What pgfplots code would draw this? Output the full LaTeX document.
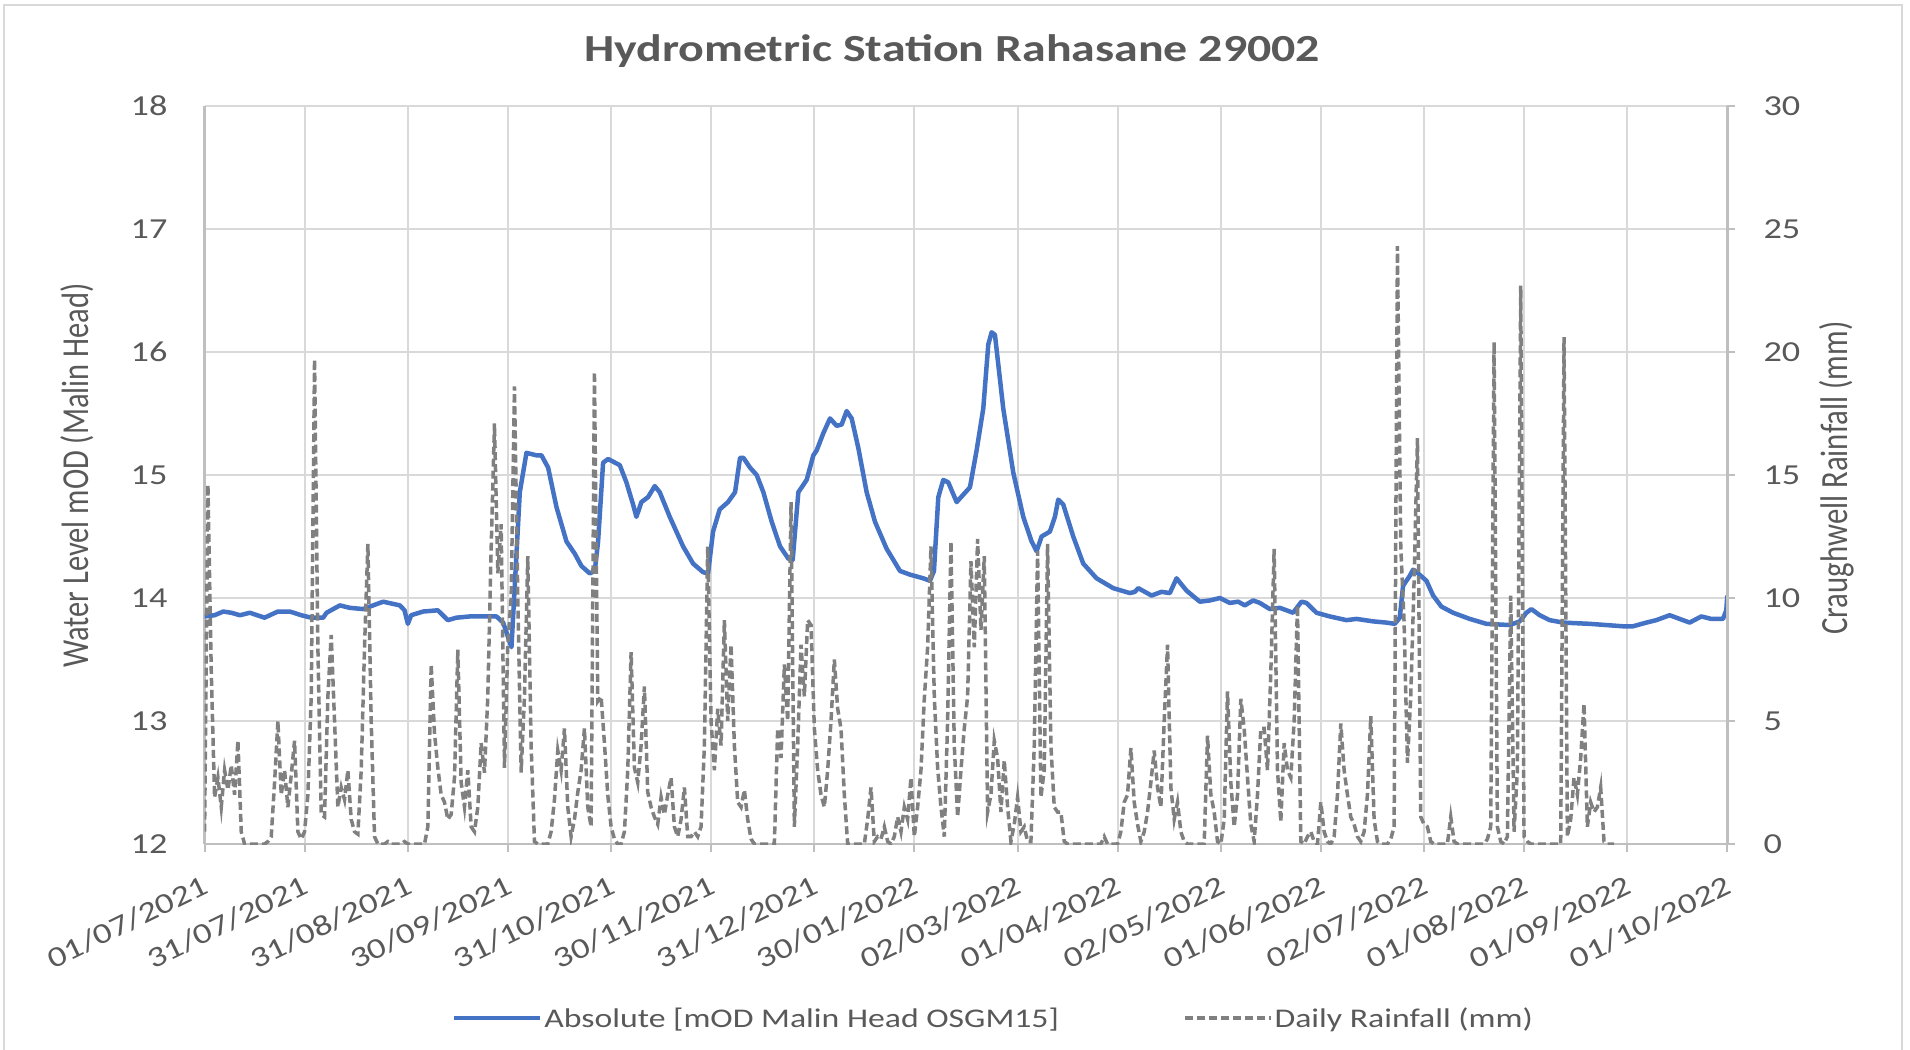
\documentclass[border=0pt]{standalone}
\usepackage{pgfplots}
\usepackage{pgfplotstable}
\pgfplotsset{compat=1.18}
\usepackage{fontspec}
\setmainfont{Carlito}[FakeStretch=1.25]
\newfontfamily\vfont{Carlito}
\definecolor{txt}{HTML}{595959}
\definecolor{grd}{HTML}{D9D9D9}
\definecolor{axl}{HTML}{BFBFBF}
\definecolor{lvl}{HTML}{4472C4}
\definecolor{rain}{HTML}{808080}

\pgfplotstableread{
d lev
0 13.85
3 13.86
5.6 13.89
8 13.88
10.6 13.86
13.6 13.88
18 13.84
22 13.89
25.6 13.89
29 13.86
32 13.84
35.6 13.84
36.6 13.88
40.6 13.94
43.6 13.92
47.6 13.91
51.6 13.95
53.6 13.97
58.6 13.94
60 13.9
61 13.79
62 13.86
65.6 13.89
70 13.9
73 13.82
75.6 13.84
79.6 13.85
83.6 13.85
87.6 13.85
89.6 13.8
92.1 13.6
94.6 14.86
96.6 15.18
99.6 15.16
101.1 15.16
103.1 15.06
105.6 14.74
108.6 14.46
111.1 14.36
113.1 14.26
115.6 14.2
117.1 14.22
118.1 14.46
119.6 15.1
121.1 15.13
124.6 15.08
126.6 14.94
128.6 14.76
129.6 14.66
131.1 14.78
133.1 14.82
135.1 14.91
136.6 14.86
139.6 14.66
143.6 14.42
146.6 14.28
149.6 14.21
151.1 14.2
152.6 14.54
154.6 14.72
157.1 14.78
159.2 14.86
160.7 15.14
161.7 15.14
163.7 15.06
165.7 15.0
167.7 14.86
170.2 14.62
172.7 14.42
175.2 14.32
176.5 14.31
178.2 14.86
180.7 14.96
182.7 15.16
183.7 15.2
185.7 15.34
187.7 15.46
189.7 15.4
191.2 15.41
192.7 15.52
194.2 15.46
196.2 15.22
198.7 14.86
201.2 14.62
204.7 14.4
208.7 14.22
211.7 14.19
215.7 14.16
217.7 14.14
218.9 14.22
220.2 14.82
221.7 14.96
223.2 14.94
225.7 14.78
227.7 14.84
229.7 14.9
231.7 15.2
233.7 15.54
235.2 16.06
236.2 16.16
237.2 16.14
239.7 15.54
242.7 15.02
245.7 14.66
248.2 14.46
249.7 14.38
251.2 14.5
253.7 14.54
255.2 14.66
256.2 14.8
257.7 14.76
260.7 14.5
263.7 14.28
267.7 14.16
272.7 14.08
277.7 14.04
279.2 14.05
280.2 14.08
284.2 14.02
287.2 14.05
289.7 14.04
291.7 14.16
294.7 14.06
298.7 13.97
301.7 13.98
304.7 14.0
307.7 13.96
310.2 13.97
312.2 13.94
314.7 13.98
316.7 13.96
319.7 13.91
322.7 13.92
326.7 13.88
329.2 13.97
330.7 13.96
333.7 13.88
337.7 13.85
342.7 13.82
345.7 13.83
350.7 13.81
354.7 13.8
357.2 13.79
358.7 13.84
359.7 14.1
361.7 14.18
362.7 14.23
364.2 14.2
366.7 14.14
368.7 14.02
371.2 13.93
374.7 13.88
379.7 13.83
384.7 13.79
391.7 13.78
394.7 13.81
396.7 13.88
398.2 13.91
400.7 13.86
403.7 13.82
407.7 13.8
415.7 13.79
425.7 13.77
428.7 13.77
432.7 13.8
435.7 13.82
439.7 13.86
442.7 13.83
445.7 13.8
449.2 13.85
452.2 13.83
455.7 13.83
456.7 13.9
457 14.02
}\levtab

\pgfplotstableread{
d r
0 0.5
1 14.6
2 7.0
3 1.9
4 2.7
5 1.5
6 3.0
7 2.2
8 3.2
9 2.0
10 4.2
11 0.5
12 0
13 0
14 0
15 0
16 0
17 0
18 0
19 0.1
20 0.3
21 2.5
22 5.0
23 2.0
24 3.0
25 1.5
26 2.8
27 4.2
28 0.5
29 0.2
30 0.5
31 2.0
32 6.0
33 19.7
34 8.0
35 1.2
36 1.1
37 6.0
38 8.5
39 5.0
40 1.5
41 2.3
42 1.8
43 3.0
44 1.0
45 0.5
46 0.4
47 3.0
48 8.0
49 12.2
50 5.0
51 0.3
52 0
53 0
54 0
55 0.1
56 0
57 0
58 0
59 0
60 0.1
61 0
62 0
63 0
64 0
65 0
66 0
67 0.7
68 7.3
69 4.5
70 3.1
71 2.0
72 1.7
73 1.0
74 1.2
75 2.7
76 7.9
77 2.5
78 1.5
79 3.0
80 0.7
81 0.5
82 1.5
83 4.1
84 2.9
85 6.0
86 12.0
87 17.1
88 11.0
89 13.0
90 3.1
91 8.1
92 10.0
93 18.6
94 10.0
95 2.9
96 6.0
97 11.7
98 4.0
99 0.1
100 0
101 0
102 0
103 0
104 0.5
105 1.8
106 3.8
107 3.0
108 4.7
109 1.5
110 0.3
111 1.0
112 2.1
113 3.0
114 4.7
115 1.5
116 0.7
117 19.2
118 5.8
119 6.0
120 4.1
121 2.0
122 0.7
123 0.2
124 0
125 0
126 0.5
127 3.0
128 7.8
129 3.1
130 2.5
131 4.0
132 6.4
133 2.1
134 1.5
135 1.1
136 0.8
137 1.9
138 1.2
139 2.0
140 2.7
141 0.7
142 0.3
143 1.0
144 2.3
145 0.3
146 0.3
147 0.5
148 0.3
149 0.7
150 4.0
151 12.1
152 5.0
153 3.0
154 5.5
155 4.0
156 9.1
157 5.0
158 8.1
159 4.0
160 1.7
161 1.5
162 2.2
163 1.0
164 0.2
165 0
166 0
167 0
168 0
169 0
170 0
171 0
172 4.7
173 3.5
174 7.3
175 5.0
176 13.9
177 0.7
178 4.0
179 8.1
180 6.0
181 9.1
182 8.9
183 4.7
184 3.0
185 2.0
186 1.5
187 3.0
188 5.0
189 7.5
190 5.5
191 4.7
192 2.0
193 0
194 0
195 0
196 0
197 0
198 0
199 1.0
200 2.3
201 0.1
202 0.3
203 0.2
204 0.7
205 0.1
206 0
207 0.3
208 1.1
209 0.5
210 1.5
211 1.0
212 2.7
213 0.3
214 1.5
215 3.0
216 5.9
217 8.0
218 12.1
219 6.0
220 3.1
221 1.5
222 0.3
223 5.0
224 12.3
225 4.0
226 1.1
227 3.0
228 4.7
229 6.0
230 11.5
231 8.0
232 12.4
233 8.7
234 11.7
235 1.3
236 2.0
237 4.2
238 3.5
239 1.3
240 3.4
241 1.5
242 0.1
243 0.8
244 1.9
245 0.5
246 0.7
247 0.1
248 0.1
249 4.0
250 11.9
251 1.9
252 3.0
253 12.2
254 4.0
255 1.5
256 1.3
257 1.3
258 0.1
259 0
260 0
261 0
262 0
263 0
264 0
265 0
266 0
267 0
268 0
269 0
270 0.3
271 0
272 0
273 0
274 0
275 0.5
276 1.7
277 2.0
278 3.9
279 1.7
280 0.8
281 0.1
282 0.5
283 1.3
284 2.5
285 3.8
286 2.3
287 1.5
288 5.0
289 8.1
290 2.3
291 1.0
292 1.7
293 0.5
294 0.1
295 0
296 0
297 0
298 0
299 0
300 0
301 4.4
302 2.0
303 1.3
304 0.1
305 0
306 1.0
307 6.2
308 2.5
309 0.7
310 2.0
311 5.9
312 4.7
313 2.7
314 0.8
315 0.1
316 2.0
317 4.7
318 4.7
319 3.0
320 7.0
321 12.0
322 3.0
323 0.9
324 4.1
325 3.0
326 2.7
327 5.0
328 9.7
329 0.1
330 0
331 0.3
332 0.5
333 0.1
334 0
335 1.7
336 0.5
337 0.1
338 0
339 0.3
340 2.0
341 4.9
342 3.0
343 2.0
344 1.1
345 0.8
346 0.3
347 0.1
348 0.5
349 2.0
350 5.2
351 1.0
352 0.1
353 0
354 0
355 0
356 0.2
357 0.7
358 24.3
359 12.1
360 9.0
361 3.3
362 6.0
363 10.7
364 16.5
365 1.1
366 0.8
367 0.7
368 0.1
369 0
370 0
371 0
372 0
373 0
374 1.1
375 0.1
376 0
377 0
378 0
379 0
380 0
381 0
382 0
383 0
384 0
385 0.2
386 0.7
387 20.4
388 0.7
389 0.1
390 0
391 0.3
392 10.1
393 0.5
394 3.0
395 22.7
396 0.3
397 0.1
398 0
399 0
400 0
401 0
402 0
403 0
404 0
405 0
406 0
407 0
408 20.6
409 0.3
410 1.0
411 2.7
412 2.0
413 3.5
414 5.7
415 0.7
416 1.7
417 1.3
418 1.5
419 2.3
420 0.1
421 0
422 0
423 0
}\raintab

\pgfplotsset{
  every axis/.append style={
    at={(0,0)}, anchor=south west,
    scale only axis, width=1522.7pt, height=738pt,
    xmin=0, xmax=457,
    /pgf/number format/assume math mode=true,
    tick style={axl, line width=2pt},
    axis line style={axl, line width=2.5pt},
    tick align=outside, major tick length=8pt,
  }
}

\begin{document}
\begin{tikzpicture}
\useasboundingbox (-204.6pt,-205pt) rectangle (1705.4pt,844pt);
\draw[grd, line width=2.5pt] (-200.6pt,-210pt) rectangle (1697.4pt,839pt);
\begin{axis}[
  ymin=12, ymax=18, ytick={12,13,...,18},
  xtick={0,30,61,91,122,152,183,213,244,274,305,335,366,396,427,457},
  xticklabels={01/07/2021,31/07/2021,31/08/2021,30/09/2021,31/10/2021,30/11/2021,31/12/2021,30/01/2022,02/03/2022,01/04/2022,02/05/2022,01/06/2022,02/07/2022,01/08/2022,01/09/2022,01/10/2022},
  axis x line*=bottom, axis y line*=left,
  grid=major, major grid style={grd, line width=2pt},
  ytick style={draw=none},
  yticklabel style={font=\fontsize{29}{30}\selectfont, text=txt, anchor=east, inner sep=0pt, xshift=-29pt},
  xticklabel style={font=\fontsize{29}{30}\selectfont, text=txt, inner sep=0pt, yshift=-22pt, xshift=-3pt, rotate=26, anchor=north east},
]
\addplot[lvl, line width=4.5pt, line join=round] table[x=d, y=lev] {\levtab};
\end{axis}
\begin{axis}[
  ymin=0, ymax=30, ytick={0,5,...,30},
  axis x line=none, axis y line*=right,
  yticklabel style={font=\fontsize{29}{30}\selectfont, text=txt, anchor=west, inner sep=0pt, xshift=28pt},
  legend columns=2,
  legend style={at={(0.518,-0.236)}, anchor=center, draw=none, fill=none,
    font=\fontsize{27}{30}\selectfont, text=txt,
    /tikz/every even column/.append style={column sep=122pt}},
  legend image code/.code={\draw[#1] (0pt,0pt) -- (86pt,0pt);},
]
\addlegendimage{lvl, line width=4.5pt}
\addlegendentry{Absolute [mOD Malin Head OSGM15]}
\addplot[rain, line width=3.5pt, dash pattern=on 8pt off 4pt] table[x=d, y=r] {\raintab};
\addlegendentry{Daily Rainfall (mm)}
\end{axis}
\node[font=\bfseries\fontsize{38.3}{42}\selectfont, text=txt] at (747.4pt,792.5pt) {Hydrometric Station Rahasane 29002};
\node[rotate=90, font=\vfont\fontsize{30.5}{33}\selectfont, text=txt] at (-127.6pt,368.5pt) {\scalebox{1}[1.25]{Water Level mOD (Malin Head)}};
\node[rotate=90, font=\vfont\fontsize{30.8}{33}\selectfont, text=txt] at (1632.4pt,366pt) {\scalebox{1}[1.25]{Craughwell Rainfall (mm)}};
\end{tikzpicture}
\end{document}
